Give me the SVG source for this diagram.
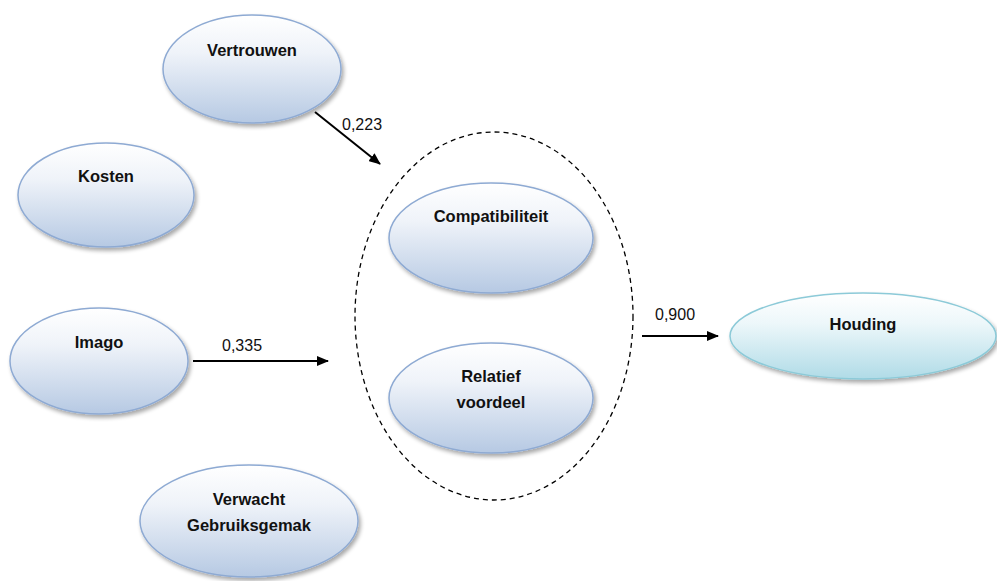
<svg xmlns="http://www.w3.org/2000/svg" width="997" height="581" viewBox="0 0 997 581">
<defs>
<linearGradient id="gBlue" x1="0" y1="0" x2="0" y2="1">
<stop offset="0" stop-color="#ffffff"/>
<stop offset="0.35" stop-color="#eff3f9"/>
<stop offset="1" stop-color="#b6c9e3"/>
</linearGradient>
<linearGradient id="gCyan" x1="0" y1="0" x2="0" y2="1">
<stop offset="0" stop-color="#ffffff"/>
<stop offset="0.35" stop-color="#edf7fa"/>
<stop offset="1" stop-color="#b0dbe7"/>
</linearGradient>
<filter id="sh" x="-10%" y="-10%" width="125%" height="130%">
<feGaussianBlur in="SourceAlpha" stdDeviation="2"/>
<feOffset dx="2" dy="3" result="b"/>
<feComponentTransfer><feFuncA type="linear" slope="0.35"/></feComponentTransfer>
<feMerge><feMergeNode/><feMergeNode in="SourceGraphic"/></feMerge>
</filter>
<marker id="arr" viewBox="0 0 12 10" refX="11" refY="5" markerWidth="12" markerHeight="10" markerUnits="userSpaceOnUse" orient="auto">
<path d="M0,0 L12,5 L0,10 z" fill="#000"/>
</marker>
</defs>
<style>
.node{fill:url(#gBlue);stroke:#8eaad3;stroke-width:1.5;filter:url(#sh)}
.nodeC{fill:url(#gCyan);stroke:#8ccad8;stroke-width:1.5;filter:url(#sh)}
.lbl{font-family:"Liberation Sans",Arial,sans-serif;font-weight:bold;font-size:16.5px;fill:#111;text-anchor:middle}
.num{font-family:"Liberation Sans",Arial,sans-serif;font-size:16px;fill:#111}
.conn{stroke:#000;stroke-width:2;fill:none;marker-end:url(#arr)}
</style>
<rect width="997" height="581" fill="#fff"/>
<g id="group-ellipse">
<ellipse cx="494" cy="316" rx="139" ry="184" fill="none" stroke="#000" stroke-width="1.3" stroke-dasharray="5,4"/>
</g>
<g id="vertrouwen"><ellipse class="node" cx="252" cy="69" rx="89" ry="54"/><text class="lbl" x="252" y="56">Vertrouwen</text></g>
<g id="kosten"><ellipse class="node" cx="106" cy="195" rx="88" ry="52"/><text class="lbl" x="106" y="182">Kosten</text></g>
<g id="imago"><ellipse class="node" cx="99" cy="361" rx="89" ry="53"/><text class="lbl" x="99" y="348">Imago</text></g>
<g id="verwacht"><ellipse class="node" cx="249" cy="521" rx="109" ry="56"/><text class="lbl" x="249" y="505">Verwacht</text><text class="lbl" x="249" y="531">Gebruiksgemak</text></g>
<g id="compatibiliteit"><ellipse class="node" cx="491" cy="238" rx="102" ry="55"/><text class="lbl" x="491" y="222">Compatibiliteit</text></g>
<g id="relatief"><ellipse class="node" cx="491" cy="398" rx="102" ry="55"/><text class="lbl" x="491" y="382">Relatief</text><text class="lbl" x="491" y="408">voordeel</text></g>
<g id="houding"><ellipse class="nodeC" cx="863" cy="336" rx="133" ry="43"/><text class="lbl" x="863" y="330">Houding</text></g>
<g id="connectors">
<line class="conn" x1="315" y1="112" x2="380" y2="164"/>
<line class="conn" x1="193" y1="361" x2="328" y2="361"/>
<line class="conn" x1="642" y1="336" x2="718" y2="336"/>
<text class="num" x="342" y="130">0,223</text>
<text class="num" x="222" y="351">0,335</text>
<text class="num" x="655" y="320">0,900</text>
</g>
</svg>
